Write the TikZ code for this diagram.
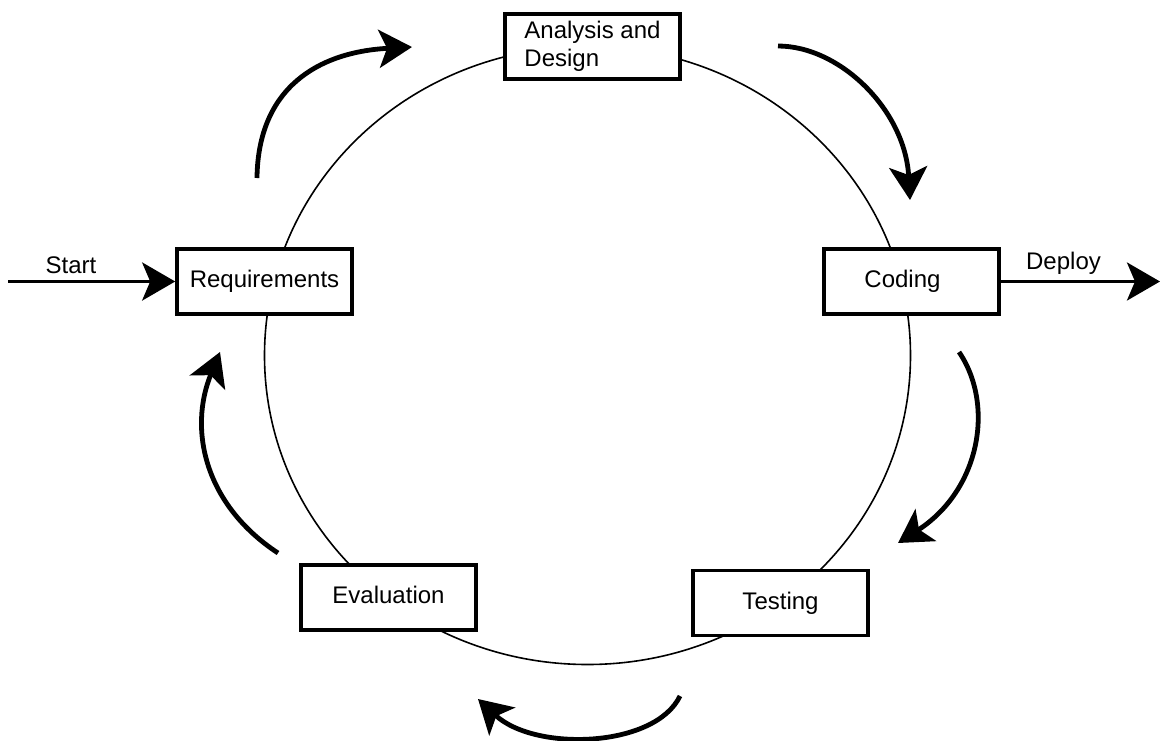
\documentclass[tikz,border=0pt]{standalone}
\usepackage{fontspec}
\setmainfont{Liberation Sans}
\usetikzlibrary{arrows.meta}
\begin{document}
\begin{tikzpicture}[x=1pt,y=-1pt,
  stagebox/.style={draw, line width=3.6pt, fill=white, minimum width=175pt,
    minimum height=65pt, inner sep=0pt, font=\fontsize{24}{27.5}\selectfont},
  oneline/.style={stagebox, text height=17pt, text depth=5pt},
  bighead/.style={-{Stealth[length=33pt,width=38pt,inset=8pt]}},
  flow/.style={bighead, line width=4.8pt},
  io/.style={bighead, line width=3.6pt},
  caption/.style={font=\fontsize{24}{27.5}\selectfont, inner sep=0pt, anchor=base}]
\fill[white] (0,0) rectangle (1165,740);
\useasboundingbox (0,0) rectangle (1165,740);

% the cycle
\draw[line width=1.6pt] (587.5,355.5) ellipse [x radius=323pt, y radius=309pt];

% stages
\node[stagebox, align=left] (analysis) at (592.5,46.5) {Analysis and\\Design};
\node[oneline] (req) at (264.5,281.5) {Requirements};
\node[oneline] (coding) at (911.5,281.5) {Coding\hspace*{18pt}};
\node[oneline] (testing) at (780.5,603) {Testing};
\node[oneline] (eval) at (388.5,597.5) {Evaluation};

% entry and exit
\coordinate (startpt) at (8,281.5);
\coordinate (deploypt) at (1160,281.5);
\draw[io] (startpt) -- (req.west);
\draw[io] (coding.east) -- (deploypt);
\node[caption] (startlbl) at (71,273) {Start};
\node[caption] (deploylbl) at (1063.5,269) {Deploy};

% direction arrows around the cycle
\coordinate (a1s) at (257,178);  \coordinate (a1e) at (412,47);
\coordinate (a2s) at (778,46);   \coordinate (a2e) at (910,200);
\coordinate (a3s) at (959,352);  \coordinate (a3e) at (898,543);
\coordinate (a4s) at (680,696);  \coordinate (a4e) at (478,699);
\coordinate (a5s) at (278,553);  \coordinate (a5e) at (220,352);

\draw[flow] (a1s) .. controls (258,88) and (318,52) .. (a1e);
\draw[flow] (a2s) .. controls (840,46) and (905,110) .. (a2e);
\draw[flow] (a3s) .. controls (995,405) and (980,490) .. (a3e);
\draw[flow] (a4s) .. controls (655,748) and (535,752) .. (a4e);
\draw[flow] (a5s) .. controls (205,505) and (188,430) .. (a5e);
\end{tikzpicture}
\end{document}
